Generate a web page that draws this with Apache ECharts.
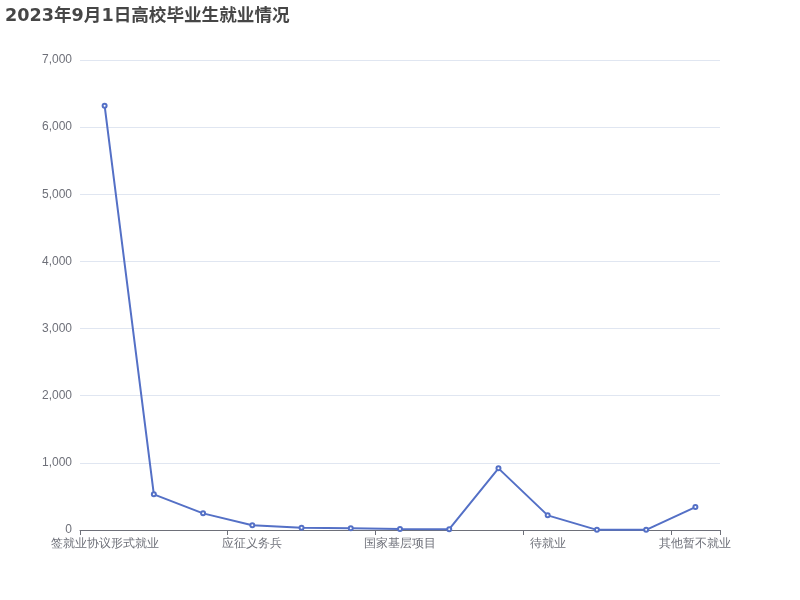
<!DOCTYPE html>
<html>
<head>
<meta charset="utf-8">
<script src="https://cdn.jsdelivr.net/npm/echarts@6/dist/echarts.min.js"></script>
<style>
html, body { margin: 0; padding: 0; background: #fff; }
#main { width: 800px; height: 600px; }
</style>
</head>
<body>
<div id="main"></div>
<script>
// 就业去向类别
var categories = [
    '签就业协议形式就业', '签劳动合同形式就业', '其他录用形式就业', '应征义务兵',
    '科研助理、管理助理', '自主创业', '国家基层项目', '地方基层项目',
    '升学', '待就业', '不就业拟升学', '出国、出境', '其他暂不就业'
];
// 人数
var counts = [6320, 531, 248, 70, 35, 25, 15, 12, 918, 218, 2, 2, 342];

var myChart = echarts.init(document.getElementById('main'));
myChart.setOption({
    title: {
        text: '2023年9月1日高校毕业生就业情况',
        left: 0,
        top: 3,
        textStyle: {
            fontSize: 17.6,
            fontWeight: 'bold',
            fontFamily: 'DejaVu Sans, Noto Sans CJK SC, sans-serif',
            color: '#464646'
        }
    },
    tooltip: { trigger: 'axis' },
    grid: {
        left: 80,
        right: 80,
        top: 60,
        bottom: 70,
        containLabel: false
    },
    xAxis: {
        type: 'category',
        data: categories,
        axisLabel: { interval: 2, color: '#6E7079', fontSize: 12 },
        axisTick: { show: true, interval: 2, lineStyle: { color: '#6E7079' } },
        axisLine: { lineStyle: { color: '#6E7079' } }
    },
    yAxis: {
        type: 'value',
        min: 0,
        max: 7000,
        interval: 1000,
        axisLabel: { color: '#6E7079', fontSize: 12 },
        splitLine: { lineStyle: { color: '#E0E6F1' } }
    },
    series: [{
        name: '人数',
        type: 'line',
        data: counts,
        symbol: 'emptyCircle',
        symbolSize: 4,
        itemStyle: { color: '#5470c6' },
        lineStyle: { width: 2, color: '#5470c6' },
        animation: false
    }]
});
</script>
</body>
</html>
